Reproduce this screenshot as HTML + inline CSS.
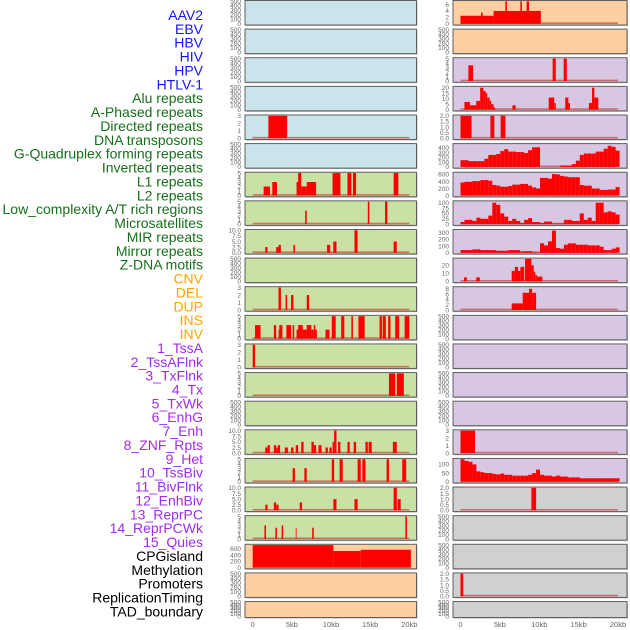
<!DOCTYPE html>
<html><head><meta charset="utf-8">
<style>
html,body{margin:0;padding:0;background:#fff;width:630px;height:630px;overflow:hidden}
svg{display:block}
.lab{font-family:"Liberation Sans",sans-serif;font-size:14px}
.tk{font-family:"Liberation Sans",sans-serif;font-size:6.5px;fill:#666}
.xt{font-family:"Liberation Sans",sans-serif;font-size:7.5px;fill:#666}
</style></head>
<body>
<svg id="chart" width="630" height="630" viewBox="0 0 630 630" xmlns="http://www.w3.org/2000/svg"></svg>
<script>
// ---------- labels ----------
const trackLabels = ["AAV2","EBV","HBV","HIV","HPV","HTLV-1","Alu repeats","A-Phased repeats","Directed repeats","DNA transposons","G-Quadruplex forming repeats","Inverted repeats","L1 repeats","L2 repeats","Low_complexity A/T rich regions","Microsatellites","MIR repeats","Mirror repeats","Z-DNA motifs","CNV","DEL","DUP","INS","INV","1_TssA","2_TssAFlnk","3_TxFlnk","4_Tx","5_TxWk","6_EnhG","7_Enh","8_ZNF_Rpts","9_Het","10_TssBiv","11_BivFlnk","12_EnhBiv","13_ReprPC","14_ReprPCWk","15_Quies","CPGisland","Methylation","Promoters","ReplicationTiming","TAD_boundary"];
const labelGroups = [6,13,5,15,5];
const xTickValues = [0,5,10,15,20];
const xTickLabels = ["0","5kb","10kb","15kb","20kb"];

// ---------- left column segments [startKb,endKb,value] ----------
const left4 = [[2.0,4.4,3]];
const left6 = [[1.4,2.2,2],[2.5,3.1,3],[5.6,5.9,3],[5.8,6.2,5],[6.2,6.9,2],[6.9,8.1,3],[10.2,11.2,5],[12.1,12.6,5],[12.8,13.2,5],[18.0,18.6,5]];
const left7 = [[6.7,6.9,3],[14.7,14.9,5],[16.9,17.2,5]];
const left8 = [[1.6,1.9,2.5],[3.0,3.3,2.5],[3.3,3.6,3.5],[5.2,5.4,3.5],[9.5,9.9,3.5],[10.3,10.7,5],[13.0,13.4,10],[18.0,18.4,5]];
const left10 = [[3.3,3.6,3],[4.2,4.4,2],[4.9,5.2,2],[6.9,7.2,2]];
const left11 = [[0.3,1.0,3],[2.7,3.0,3],[3.3,3.4,2],[3.4,3.8,3],[4.3,4.9,3],[5.1,5.3,3],[5.6,5.9,2],[5.8,6.4,3],[6.4,6.9,2],[6.9,7.5,3],[7.5,7.8,2],[7.8,8.0,3],[8.0,8.2,2],[9.3,9.8,2],[10.1,10.6,5],[11.3,11.7,5],[12.6,12.8,5],[13.5,14.3,5],[16.2,16.5,5],[16.6,17.0,5],[17.3,17.6,5],[18.2,18.7,5],[19.4,20.0,5]];
const left12 = [[0.0,0.3,3]];
const left13 = [[17.4,18.2,5],[18.4,19.3,5]];
const left15 = [[1.6,1.9,2.5],[1.9,2.2,3.5],[2.7,3.0,3.5],[3.0,3.2,2.5],[3.2,3.5,3.5],[4.1,4.5,2.5],[4.9,5.2,2.5],[5.5,5.8,3.5],[6.2,6.5,5],[7.5,7.8,5],[7.8,8.1,3.5],[8.4,8.8,3.5],[9.3,9.6,2.5],[9.8,10.1,2.5],[10.2,10.4,5],[10.4,10.7,10],[10.9,11.2,5],[12.1,12.4,5],[12.9,13.2,5],[14.4,14.7,5],[14.8,15.2,5],[17.9,18.4,5]];
const left16 = [[5.1,5.4,3],[6.6,6.9,3],[10.1,10.4,5],[11.1,11.5,5],[13.4,13.8,5],[14.0,14.4,5],[17.1,17.4,5],[19.1,19.6,5]];
const left17 = [[1.6,1.9,2.5],[2.7,3.0,3.5],[3.0,3.3,2.5],[6.0,6.3,3.5],[10.3,10.7,5],[13.0,13.4,5],[18.0,18.4,10],[18.5,18.9,5]];
const left18 = [[1.5,1.7,3],[2.9,3.1,2.5],[3.7,3.9,3],[5.5,5.6,2.5],[7.6,7.8,2.5],[19.5,19.7,5]];
const left19 = [[0,10.3,720],[10.3,13.8,530],[13.8,20.2,570]];

// ---------- right column segments ----------
const right0 = [[0,4.2,2.5],[2.6,2.8,3.5],[4.2,10.2,4],[5.7,5.9,7],[7.6,7.8,7],[8.4,8.7,7]];
const right2 = [[1.0,1.6,3.5],[11.7,12.1,5],[13.1,13.5,5]];
const right3 = [[0.5,1.2,7],[1.2,2.0,4],[2.0,2.5,8],[2.5,2.9,20],[2.9,3.2,17],[3.2,3.4,15],[3.4,3.7,11],[3.7,3.9,8],[3.9,4.2,5],[4.2,4.4,2],[6.6,7.0,4],[11.2,11.9,11],[11.9,12.1,6],[13.3,13.7,11],[13.7,13.9,6],[16.3,16.7,6],[16.7,17.0,20],[17.0,17.5,11]];
const right4 = [[0,1.4,2],[3.8,4.3,2],[5.1,5.7,2]];
const right9 = [[0.45,0.8,5],[2.0,2.45,5],[6.5,6.9,13],[6.9,7.3,18],[7.3,7.6,13],[7.6,8.1,18],[8.2,9.0,28],[9.0,9.3,20],[9.3,9.5,12],[9.5,9.7,8],[9.7,10.4,6]];
const right10 = [[6.5,7.9,2.5],[7.9,8.7,6.5],[8.7,9.1,8],[9.1,9.6,6.5]];
const right15 = [[0,1.85,3]];
const right17 = [[9.0,9.6,2]];
const right20 = [[0,0.35,2]];

// ---------- right column binned profiles (40 bins over 0-20.2kb) ----------
const profile5 = [140,140,120,120,120,120,170,250,250,270,330,370,320,320,310,310,290,350,410,410,0,0,0,0,0,30,30,30,60,130,250,280,280,280,320,320,380,440,420,340];
const profile6 = [370,390,390,410,410,440,440,420,300,280,250,250,270,310,310,330,330,280,230,200,500,500,480,610,600,560,540,520,520,520,300,280,280,200,200,160,160,170,170,240];
const profile7 = [10,20,20,15,30,25,25,40,100,90,50,35,15,25,15,5,20,28,10,10,5,12,12,3,3,3,20,20,15,15,50,20,30,15,100,100,55,60,55,45];
const profile8 = [40,40,40,50,50,40,40,40,40,30,30,30,40,40,40,20,25,25,10,5,140,110,170,330,70,60,120,140,140,120,120,120,110,110,110,90,40,40,60,80];
const profile16 = [130,120,115,100,60,55,50,50,45,42,47,40,40,35,35,35,35,40,50,70,40,35,35,30,35,30,30,25,25,25,20,20,20,20,20,20,20,20,20,20];

// ---------- tick sets ----------
const ticksEmpty = [0,100,200,300,400,500];
const ticks3 = [0,1,2,3];
const ticks5 = [0,1,2,3,4,5];
const ticks10 = [0,2.5,5,7.5,10];
const ticksCpg = [0,200,400,600];
const ticksR0 = [0,2,4,6];
const ticksR3 = [0,5,10,15,20];
const ticksR4 = [0,0.5,1,1.5,2];
const ticksR5 = [0,100,200,300,400];
const ticksR7 = [0,25,50,75,100];
const ticksR8 = [0,100,200,300];
const ticksR9 = [0,10,20];
const ticksR10 = [0,2,4,6,8];
const ticksR16 = [0,50,100];

const BG = {b:"#c9e4ea", g:"#c9e1a4", o:"#ffcf9f", p:"#d7c7e3", y:"#d0d0d0"};

function binsToSegs(arr){ const w = 20.2/arr.length; return arr.map((v,i)=>[i*w,(i+1)*w,v]); }

// panel configs: [bg, ymax, ticks, decimals, segs]
const leftPanels = [
 ["b",500,ticksEmpty,0,null],["b",500,ticksEmpty,0,null],["b",500,ticksEmpty,0,null],["b",500,ticksEmpty,0,null],
 ["b",3,ticks3,0,left4],["b",500,ticksEmpty,0,null],
 ["g",5,ticks5,0,left6],["g",5,ticks5,0,left7],["g",10,ticks10,1,left8],["g",500,ticksEmpty,0,null],
 ["g",3,ticks3,0,left10],["g",5,ticks5,0,left11],["g",3,ticks3,0,left12],["g",5,ticks5,0,left13],["g",500,ticksEmpty,0,null],
 ["g",10,ticks10,1,left15],["g",5,ticks5,0,left16],["g",10,ticks10,1,left17],["g",5,ticks5,0,left18],
 ["o",720,ticksCpg,0,left19],["o",500,ticksEmpty,0,null],["o",500,ticksEmpty,0,null]
];
const rightPanels = [
 ["o",7,ticksR0,0,right0],["o",500,ticksEmpty,0,null],["p",5,ticks5,0,right2],["p",20.5,ticksR3,0,right3],["p",2,ticksR4,1,right4],
 ["p",470,ticksR5,0,binsToSegs(profile5)],["p",640,ticksCpg,0,binsToSegs(profile6)],["p",105,ticksR7,0,binsToSegs(profile7)],["p",335,ticksR8,0,binsToSegs(profile8)],
 ["p",28,ticksR9,0,right9],["p",8.5,ticksR10,0,right10],
 ["p",500,ticksEmpty,0,null],["p",500,ticksEmpty,0,null],["p",500,ticksEmpty,0,null],["p",500,ticksEmpty,0,null],
 ["p",3,ticks3,0,right15],["p",130,ticksR16,0,binsToSegs(profile16)],["y",2,ticksR4,1,right17],["y",500,ticksEmpty,0,null],
 ["y",500,ticksEmpty,0,null],["y",2,ticksR4,1,right20],["y",500,ticksEmpty,0,null]
];

const NS="http://www.w3.org/2000/svg";
const svg=document.getElementById('chart');
function mk(tag,attrs,parent){const e=document.createElementNS(NS,tag);for(const k in attrs)e.setAttribute(k,attrs[k]);(parent||svg).appendChild(e);return e;}

// labels
const groupColors=["#1414ff","#16701a","#ffa500","#a02cf0","#000000"];
let gi=0,cnt=0;
trackLabels.forEach((t,i)=>{
  while(cnt>=labelGroups[gi]){gi++;cnt=0;}
  cnt++;
  const e=mk('text',{x:203,y:15+i*13.87+5,'text-anchor':'end',class:'lab',fill:groupColors[gi]});
  e.textContent=t;
  
  
});

const cols=[{px0:245,px1:416.5,x0:252.7,k:7.83,tickX:241,panels:leftPanels,name:'left'},
            {px0:453,px1:627,x0:460.5,k:7.875,tickX:449,panels:rightPanels,name:'right'}];

cols.forEach(c=>{
  const xs=v=>c.x0+v*c.k;
  c.panels.forEach((p,r)=>{
    const top = r===0?0.5:r*28.62+0.5;
    const h = r===21?16:24.5;
    const g=mk('g',{});
    
    
    mk('rect',{x:c.px0+1,y:top+1,width:c.px1-c.px0,height:h,fill:'#b8b8b8'},g);
    mk('rect',{x:c.px0,y:top,width:c.px1-c.px0,height:h,fill:BG[p[0]],stroke:'#5f5f5f','stroke-width':1},g);
    const yb=top+h-1.2, yt=top+0.8;
    const ys=v=>yb-(v/p[1])*(yb-yt);
    // ticks
    p[2].forEach(t=>{
      const e=mk('text',{x:c.tickX,y:ys(t)+2.3,'text-anchor':'end',class:'tk'},g);
      e.textContent = p[3]?t.toFixed(1):String(t);
      
      
    });
    if(p[4]){
      mk('line',{x1:xs(0),x2:xs(20),y1:yb-0.6,y2:yb-0.6,stroke:'rgba(200,40,40,0.6)','stroke-width':1.6},g);
      p[4].forEach(s=>{
        const b=mk('rect',{x:xs(s[0]),y:ys(s[2]),width:Math.max(0.8,xs(s[1])-xs(s[0])),height:yb-ys(s[2]),fill:'#ff0000'},g);
        
        
      });
    }
  });
  xTickValues.forEach((v,i)=>{
    const e=mk('text',{x:xs(v),y:627,'text-anchor':'middle',class:'xt'});
    e.textContent=xTickLabels[i];
    
    
  });
});
</script>
</body></html>
